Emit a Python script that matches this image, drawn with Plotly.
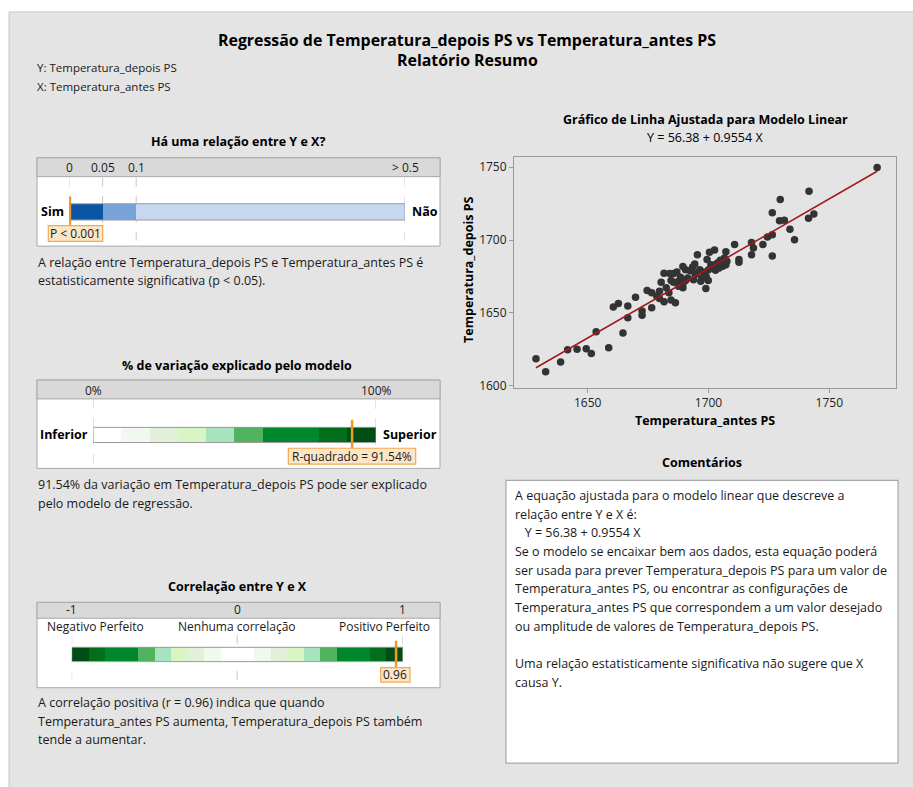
import plotly.graph_objects as go

W, H = 913, 787
FONT = "Open Sans"
TXT = "#1a1a1a"

# ---------------- data ----------------
x_antes = [1628.6, 1632.6, 1638.8, 1641.7, 1645.6, 1649.4, 1651.5, 1653.5, 1658.7, 1660.6,
           1662.7, 1664.6, 1666.6, 1666.6, 1669.8, 1672.5, 1672.5, 1674.6, 1676.5, 1676.5,
           1680.4, 1679.7, 1679.7, 1681.6, 1681.6, 1683.6, 1684.0, 1684.5, 1686.3, 1685.6,
           1684.5, 1687.6, 1688.4, 1689.4, 1689.4, 1690.5, 1689.4, 1692.4, 1693.4, 1694.3,
           1695.4, 1694.5, 1696.4, 1696.8, 1697.9, 1698.9, 1699.0, 1699.4, 1699.9, 1700.4,
           1701.0, 1702.5, 1702.9, 1703.7, 1704.9, 1705.9, 1707.2, 1707.2, 1710.8, 1712.6,
           1712.6, 1717.8, 1717.8, 1718.6, 1722.5, 1724.4, 1726.4, 1726.4, 1726.4, 1729.4,
           1729.7, 1731.4, 1733.7, 1735.6, 1741.4, 1741.6, 1743.6, 1769.8,
           1682.5, 1686.9, 1691.4, 1690.5, 1695.2, 1697.2, 1700.0, 1702.1, 1704.4, 1706.6,
           1707.6, 1693.8, 1687.6, 1685.5, 1678.6]
y_depois = [1618.5, 1609.6, 1616.2, 1624.6, 1625.1, 1625.3, 1622.1, 1637.1, 1626.0, 1654.0,
            1656.5, 1636.2, 1654.7, 1646.7, 1660.8, 1651.3, 1648.3, 1665.4, 1653.5, 1663.8,
            1671.1, 1664.9, 1659.9, 1677.2, 1657.6, 1663.8, 1677.0, 1658.8, 1656.9, 1677.0,
            1672.2, 1671.8, 1674.5, 1681.8, 1667.2, 1672.2, 1669.9, 1679.0, 1681.5, 1683.6,
            1690.0, 1676.3, 1679.7, 1671.8, 1678.1, 1666.7, 1675.2, 1686.6, 1672.2, 1691.6,
            1683.1, 1693.2, 1679.3, 1684.3, 1686.1, 1682.0, 1692.0, 1683.1, 1697.0, 1686.6,
            1684.7, 1698.4, 1690.0, 1694.5, 1697.0, 1702.1, 1703.6, 1718.7, 1689.1, 1713.2,
            1727.8, 1713.7, 1707.5, 1700.2, 1715.0, 1733.5, 1718.0, 1749.9,
            1667.2, 1678.1, 1674.0, 1679.7, 1677.4, 1673.6, 1679.7, 1682.7, 1680.9, 1687.7,
            1685.4, 1672.7, 1668.3, 1671.1, 1661.5]
intercept = 56.38
slope = 0.9554
p_value = 0.001
r_squared = 91.54
correlation = 0.96

p_ticks = [0, 0.05, 0.1, 0.5]
p_tick_labels = ["0", "0.05", "0.1", "> 0.5"]
p_seg_start = [0, 0.05, 0.1]
p_seg_end = [0.05, 0.1, 0.5]
p_seg_colors = ["#0A55A5", "#77A3D8", "#C5D8F0"]

r2_ticks = [0, 100]
r2_tick_labels = ["0%", "100%"]
r2_seg_start = [0, 10, 20, 30, 40, 50, 60, 80, 90]
r2_seg_end = [10, 20, 30, 40, 50, 60, 80, 90, 100]
r2_seg_colors = ["#FFFFFF", "#F1F8EF", "#E2EFD9", "#DAF5C4", "#A6E3BF",
                 "#52B35E", "#00862C", "#006E1B", "#004E16"]

r_ticks = [-1, 0, 1]
r_tick_labels = ["-1", "0", "1"]
r_sub_labels = ["Negativo Perfeito", "Nenhuma correlação", "Positivo Perfeito"]
r_seg_start = [-1, -0.9, -0.8, -0.6, -0.5, -0.4, -0.3, -0.2, -0.1, 0.1, 0.2, 0.3, 0.4, 0.5, 0.6, 0.8, 0.9]
r_seg_end = [-0.9, -0.8, -0.6, -0.5, -0.4, -0.3, -0.2, -0.1, 0.1, 0.2, 0.3, 0.4, 0.5, 0.6, 0.8, 0.9, 1.0]
r_seg_colors = ["#004E16", "#006E1B", "#00862C", "#52B35E", "#A6E3BF", "#DAF5C4", "#E2EFD9", "#F1F8EF",
                "#FFFFFF",
                "#F1F8EF", "#E2EFD9", "#DAF5C4", "#A6E3BF", "#52B35E", "#00862C", "#006E1B", "#004E16"]

comment_lines = [
    "A equação ajustada para o modelo linear que descreve a",
    "relação entre Y e X é:",
    "   Y = 56.38 + 0.9554 X",
    "Se o modelo se encaixar bem aos dados, esta equação poderá",
    "ser usada para prever Temperatura_depois PS para um valor de",
    "Temperatura_antes PS, ou encontrar as configurações de",
    "Temperatura_antes PS que correspondem a um valor desejado",
    "ou amplitude de valores de Temperatura_depois PS.",
    "",
    "Uma relação estatisticamente significativa não sugere que X",
    "causa Y.",
]


def px(x):
    return x / W


def py(y):
    return 1 - y / H


ORANGE = "#F39A1F"
ORANGE_FILL = "#FDE6C8"
GRID = "#C8C8C8"

fig = go.Figure()

# ---------------- scatter panel ----------------
fig.add_trace(go.Scatter(x=x_antes, y=y_depois, mode="markers",
                         marker=dict(color="#333333", size=7.5),
                         xaxis="x", yaxis="y", showlegend=False, hoverinfo="skip"))
xl = [min(x_antes), max(x_antes)]
fig.add_trace(go.Scatter(x=xl, y=[intercept + slope * v for v in xl], mode="lines",
                         line=dict(color="#A3191E", width=1.6),
                         xaxis="x", yaxis="y", showlegend=False, hoverinfo="skip"))

shapes = []


def bar_panel(xa, ya, starts, ends, colors, yc, bw):
    for s, e, c in zip(starts, ends, colors):
        fig.add_trace(go.Bar(x=[e - s], base=[s], y=[yc], orientation="h", width=bw,
                             marker=dict(color=c, line=dict(width=0)),
                             xaxis=xa, yaxis=ya, showlegend=False, hoverinfo="skip"))
    shapes.append(dict(type="rect", xref=xa, yref=ya, x0=starts[0], x1=ends[-1],
                       y0=yc - bw / 2, y1=yc + bw / 2, line=dict(color="#9A9A9A", width=1),
                       fillcolor="rgba(0,0,0,0)", layer="above"))


# p-value panel
bar_panel("x2", "y2", p_seg_start, p_seg_end, p_seg_colors, 213.5, 16.4)
fig.add_trace(go.Scatter(x=[p_value, p_value], y=[198, 227], mode="lines",
                         line=dict(color=ORANGE, width=3), xaxis="x2", yaxis="y2",
                         showlegend=False, hoverinfo="skip"))
# R2 panel
bar_panel("x3", "y3", r2_seg_start, r2_seg_end, r2_seg_colors, 438.3, 15.3)
fig.add_trace(go.Scatter(x=[r_squared, r_squared], y=[423, 451.7], mode="lines",
                         line=dict(color=ORANGE, width=2.5), xaxis="x3", yaxis="y3",
                         showlegend=False, hoverinfo="skip"))
# correlation panel
bar_panel("x4", "y4", r_seg_start, r_seg_end, r_seg_colors, 659.5, 14.4)
fig.add_trace(go.Scatter(x=[correlation, correlation], y=[645.7, 673.3], mode="lines",
                         line=dict(color=ORANGE, width=2.5), xaxis="x4", yaxis="y4",
                         showlegend=False, hoverinfo="skip"))

# outer background
shapes.append(dict(type="rect", xref="paper", yref="paper", x0=px(9), x1=px(940), y0=py(820), y1=py(12),
                   fillcolor="#E4E4E4", line=dict(color="#C6C6C6", width=1), layer="below"))


def panel_box(x0, x1, y0, y1, yh):
    shapes.append(dict(type="rect", xref="paper", yref="paper", x0=px(x0), x1=px(x1), y0=py(y1), y1=py(y0),
                       fillcolor="white", line=dict(color="#A8A8A8", width=1), layer="below"))
    shapes.append(dict(type="rect", xref="paper", yref="paper", x0=px(x0), x1=px(x1), y0=py(yh), y1=py(y0),
                       fillcolor="#D9D9D9", line=dict(color="#A8A8A8", width=1), layer="below"))


panel_box(37, 440, 159, 248, 178)
panel_box(37, 440, 383, 472, 402)
panel_box(37, 440, 607, 693, 623)

# comments box
shapes.append(dict(type="rect", xref="paper", yref="paper", x0=px(506), x1=px(898), y0=py(769), y1=py(484),
                   fillcolor="white", line=dict(color="#A8A8A8", width=1.2), layer="below"))

# dashed reference lines in the bar panels
for v in p_ticks:
    shapes.append(dict(type="line", xref="x2", yref="y2", x0=v, x1=v, y0=179, y1=247,
                       line=dict(color=GRID, width=1, dash="dash"), layer="below"))
for v in r2_ticks:
    shapes.append(dict(type="line", xref="x3", yref="y3", x0=v, x1=v, y0=403, y1=470,
                       line=dict(color=GRID, width=1, dash="dash"), layer="below"))
for v in r_ticks:
    shapes.append(dict(type="line", xref="x4", yref="y4", x0=v, x1=v, y0=640, y1=692,
                       line=dict(color=GRID, width=1, dash="dash"), layer="below"))

# value label boxes
for (x0, x1, y0, y1) in [(48.3, 102.7, 227.3, 243.3), (288.3, 415.7, 451.7, 467.7), (380.7, 410, 672.7, 687.3)]:
    shapes.append(dict(type="rect", xref="paper", yref="paper", x0=px(x0), x1=px(x1), y0=py(y1), y1=py(y0),
                       fillcolor=ORANGE_FILL, line=dict(color="#F5A84E", width=1.2), layer="above"))

ann = []


def text(x, y, s, size=12, bold=False, anchor="center", color=TXT, angle=0):
    ann.append(dict(x=px(x), y=py(y), xref="paper", yref="paper", text=("<b>%s</b>" % s) if bold else s,
                    showarrow=False, xanchor=anchor, yanchor="middle", textangle=angle,
                    font=dict(family=FONT, size=size, color=color)))


text(467, 40, "Regressão de Temperatura_depois PS vs Temperatura_antes PS", 15.9, True, color="black")
text(467, 60, "Relatório Resumo", 15.9, True, color="black")
text(35, 68, "Y: Temperatura_depois PS", 11.5, anchor="left")
text(35, 87, "X: Temperatura_antes PS", 11.5, anchor="left")

# panel 1
text(238, 143, "Há uma relação entre Y e X?", 12.5, True, color="black")
for v, s in zip(p_ticks, p_tick_labels):
    ann.append(dict(x=v, y=169, xref="x2", yref="y2", text=s, showarrow=False, xanchor="center",
                    yanchor="middle", font=dict(family=FONT, size=12, color=TXT)))
text(66, 213, "Sim", 12.5, True, anchor="right", color="black")
text(410, 213, "Não", 12.5, True, anchor="left", color="black")
text(75.5, 235.3, "P &lt; 0.001", 12)
text(36, 265, "A relação entre Temperatura_depois PS e Temperatura_antes PS é", 12.5, anchor="left")
text(36, 283, "estatisticamente significativa (p &lt; 0.05).", 12.5, anchor="left")

# panel 2
text(237, 368, "% de variação explicado pelo modelo", 12.5, True, color="black")
for v, s in zip(r2_ticks, r2_tick_labels):
    ann.append(dict(x=v, y=393, xref="x3", yref="y3", text=s, showarrow=False, xanchor="center",
                    yanchor="middle", font=dict(family=FONT, size=12, color=TXT)))
text(90, 438, "Inferior", 12.5, True, anchor="right", color="black")
text(381, 438, "Superior", 12.5, True, anchor="left", color="black")
text(352, 459.7, "R-quadrado = %.2f%%" % r_squared, 12)
text(36, 488, "91.54% da variação em Temperatura_depois PS pode ser explicado", 12.5, anchor="left")
text(36, 507, "pelo modelo de regressão.", 12.5, anchor="left")

# panel 3
text(237, 591, "Correlação entre Y e X", 12.5, True, color="black")
for v, s in zip(r_ticks, r_tick_labels):
    ann.append(dict(x=v, y=614.5, xref="x4", yref="y4", text=s, showarrow=False, xanchor="center",
                    yanchor="middle", font=dict(family=FONT, size=12, color=TXT)))
for xc, s in zip([95, 237, 384], r_sub_labels):
    text(xc, 631, s, 12)
text(395.3, 680, "%.2f" % correlation, 12)
text(36, 708, "A correlação positiva (r = 0.96) indica que quando", 12.5, anchor="left")
text(36, 727, "Temperatura_antes PS aumenta, Temperatura_depois PS também", 12.5, anchor="left")
text(36, 745, "tende a aumentar.", 12.5, anchor="left")

# scatter titles
text(705, 120, "Gráfico de Linha Ajustada para Modelo Linear", 12.5, True, color="black")
text(705, 139, "Y = %.2f + %.4f X" % (intercept, slope), 12.5, color="black")
text(705, 424, "Temperatura_antes PS", 12.5, True, color="black")
text(469, 272, "Temperatura_depois PS", 12.5, True, color="black", angle=-90)

# comments
text(702, 466, "Comentários", 12.5, True, color="black")
y0 = 499.3
for i, line in enumerate(comment_lines):
    if line:
        text(513, y0 + i * 18.8, line.replace(" ", "&nbsp;") if line.startswith(" ") else line, 12.5, anchor="left")

hidden = dict(visible=False, fixedrange=True)
fig.update_layout(
    width=W, height=H, autosize=False,
    margin=dict(l=0, r=0, t=0, b=0),
    paper_bgcolor="white", plot_bgcolor="white",
    barmode="overlay", bargap=0,
    showlegend=False,
    font=dict(family=FONT, color=TXT),
    xaxis=dict(domain=[px(514), px(896)], range=[1619.5, 1777.6], tickvals=[1650, 1700, 1750],
               showgrid=False, zeroline=False, showline=True, mirror=True, linecolor="#9A9A9A",
               ticks="outside", ticklen=4, tickcolor="#9A9A9A", tickfont=dict(size=12, color="#222"),
               anchor="y"),
    yaxis=dict(domain=[py(391), py(158)], range=[1598.4, 1757.2], tickvals=[1600, 1650, 1700, 1750],
               showgrid=False, zeroline=False, showline=True, mirror=True, linecolor="#9A9A9A",
               ticks="outside", ticklen=4, tickcolor="#9A9A9A", tickfont=dict(size=12, color="#222"),
               anchor="x"),
    xaxis2=dict(domain=[px(69), px(405)], range=[0, 0.5], anchor="y2", **hidden),
    yaxis2=dict(domain=[py(248), py(159)], range=[248, 159], anchor="x2", **hidden),
    xaxis3=dict(domain=[px(93.3), px(376)], range=[0, 100], anchor="y3", **hidden),
    yaxis3=dict(domain=[py(472), py(383)], range=[472, 383], anchor="x3", **hidden),
    xaxis4=dict(domain=[px(71.7), px(402.7)], range=[-1, 1], anchor="y4", **hidden),
    yaxis4=dict(domain=[py(693), py(607)], range=[693, 607], anchor="x4", **hidden),
    shapes=shapes,
    annotations=ann,
)

fig.write_html("out.html")
